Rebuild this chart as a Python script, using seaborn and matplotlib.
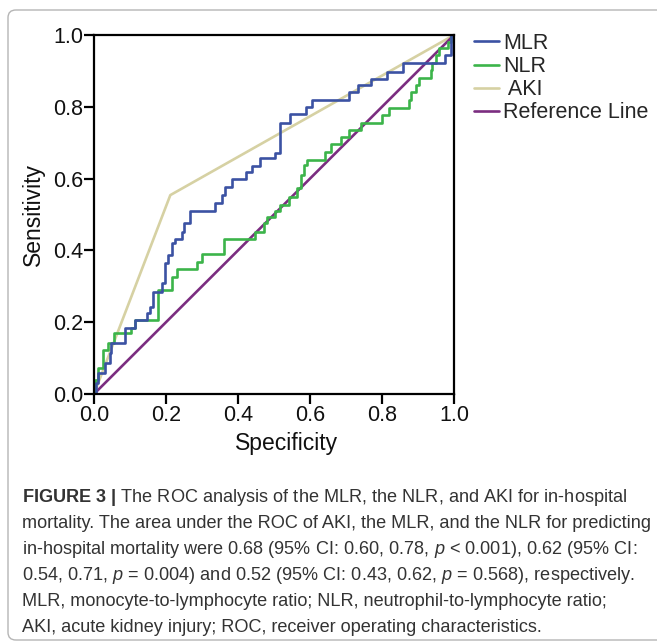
import numpy as np
import pandas as pd
import matplotlib
matplotlib.use("Agg")
import matplotlib.pyplot as plt
from matplotlib.lines import Line2D
from matplotlib.patches import FancyBboxPatch
import seaborn as sns

# ---- data ----
mlr_fpr = [0.0, 0.005, 0.012, 0.030, 0.045, 0.047, 0.085, 0.114, 0.147, 0.156, 0.165,
           0.189, 0.198, 0.205, 0.216, 0.226, 0.244, 0.249, 0.267, 0.337, 0.356, 0.363,
           0.383, 0.421, 0.439, 0.462, 0.504, 0.516, 0.544, 0.588, 0.606, 0.708, 0.732,
           0.769, 0.815, 0.857, 0.975, 0.992, 1.0]
mlr_tpr = [0.0, 0.030, 0.058, 0.085, 0.113, 0.141, 0.183, 0.206, 0.225, 0.243, 0.285,
           0.308, 0.364, 0.387, 0.420, 0.431, 0.452, 0.475, 0.510, 0.531, 0.554, 0.577,
           0.600, 0.619, 0.635, 0.656, 0.670, 0.754, 0.780, 0.800, 0.819, 0.842, 0.861,
           0.877, 0.898, 0.921, 0.944, 1.0, 1.0]

nlr_fpr = [0.0, 0.002, 0.011, 0.025, 0.039, 0.056, 0.104, 0.113, 0.179, 0.216, 0.230,
           0.286, 0.300, 0.360, 0.448, 0.471, 0.480, 0.504, 0.518, 0.541, 0.565, 0.575,
           0.583, 0.592, 0.643, 0.657, 0.685, 0.708, 0.741, 0.801, 0.820, 0.876, 0.880,
           0.894, 0.903, 0.936, 0.940, 0.950, 0.959, 0.982, 0.992, 1.0]
nlr_tpr = [0.0, 0.039, 0.072, 0.123, 0.141, 0.169, 0.183, 0.206, 0.290, 0.327, 0.347,
           0.369, 0.390, 0.431, 0.452, 0.475, 0.494, 0.510, 0.526, 0.550, 0.573, 0.610,
           0.638, 0.652, 0.675, 0.696, 0.715, 0.735, 0.754, 0.777, 0.796, 0.819, 0.842,
           0.861, 0.879, 0.902, 0.921, 0.944, 0.963, 0.981, 1.0, 1.0]

aki_fpr = [0.0, 0.212, 1.0]
aki_tpr = [0.0, 0.554, 1.0]

ref_fpr = [0.0, 1.0]
ref_tpr = [0.0, 1.0]

series_labels = ["MLR", "NLR", " AKI", "Reference Line"]
ticks = [0.0, 0.2, 0.4, 0.6, 0.8, 1.0]
tick_labels = ["0.0", "0.2", "0.4", "0.6", "0.8", "1.0"]

caption_lines = [
    r"$\mathbf{FIGURE\ 3\ |}$ The ROC analysis of the MLR, the NLR, and AKI for in-hospital",
    "mortality. The area under the ROC of AKI, the MLR, and the NLR for predicting",
    r"in-hospital mortality were 0.68 (95% CI: 0.60, 0.78, $p$ < 0.001), 0.62 (95% CI:",
    r"0.54, 0.71, $p$ = $\mathit{0.00}$4) and 0.52 (95% CI: 0.43, 0.62, $p$ = 0.568), respectively.",
    "MLR, monocyte-to-lymphocyte ratio; NLR, neutrophil-to-lymphocyte ratio;",
    "AKI, acute kidney injury; ROC, receiver operating characteristics.",
]

# ---- style ----
sns.set_style("white")
plt.rcParams["font.family"] = ["Liberation Sans", "DejaVu Sans"]
plt.rcParams["mathtext.fontset"] = "custom"
plt.rcParams["mathtext.rm"] = "Liberation Sans"
plt.rcParams["mathtext.it"] = "Liberation Sans:italic"
plt.rcParams["mathtext.bf"] = "Liberation Sans:bold"

colors = {"MLR": "#3b52a3", "NLR": "#3cb44a", "AKI": "#d6d1a3", "REF": "#7b2d80"}

W, H = 657, 643
fig = plt.figure(figsize=(W / 100, H / 100), dpi=100)

# outer frame
frame = FancyBboxPatch((8 / W, 3 / H), 660 / W, 630 / H,
                       boxstyle="round,pad=0,rounding_size=0.012",
                       transform=fig.transFigure, fill=False,
                       edgecolor="#b5b5b5", linewidth=1.0, clip_on=False)
fig.patches.append(frame)

ax = fig.add_axes([94 / W, 1 - 394 / H, 360 / W, 359 / H])

lw = 1.9
sns.lineplot(x=aki_fpr, y=aki_tpr, ax=ax, color=colors["AKI"], linewidth=lw,
             estimator=None, sort=False)
sns.lineplot(x=ref_fpr, y=ref_tpr, ax=ax, color=colors["REF"], linewidth=lw,
             estimator=None, sort=False)
sns.lineplot(x=nlr_fpr, y=nlr_tpr, ax=ax, color=colors["NLR"], linewidth=lw,
             estimator=None, sort=False, drawstyle="steps-post")
sns.lineplot(x=mlr_fpr, y=mlr_tpr, ax=ax, color=colors["MLR"], linewidth=lw,
             estimator=None, sort=False, drawstyle="steps-post")

ax.set_xlim(0, 1)
ax.set_ylim(0, 1)
ax.set_xticks(ticks)
ax.set_xticklabels(tick_labels)
ax.set_yticks(ticks)
ax.set_yticklabels(tick_labels)
for s in ax.spines.values():
    s.set_color("black")
    s.set_linewidth(1.6)
ax.tick_params(axis="both", direction="out", length=7, width=1.6, color="black",
               labelsize=15.5, labelcolor="#111111", pad=1, bottom=True, left=True)
ax.set_xlabel("Specificity", fontsize=16.5, color="#111111")
ax.set_ylabel("Sensitivity", fontsize=16.5, color="#111111")
ax.xaxis.set_label_coords(0.535, -0.105)
ax.yaxis.set_label_coords(-0.135, 0.5)

handles = [Line2D([], [], color=colors["MLR"], lw=lw),
           Line2D([], [], color=colors["NLR"], lw=lw),
           Line2D([], [], color=colors["AKI"], lw=lw),
           Line2D([], [], color=colors["REF"], lw=lw)]
fig.legend(handles, series_labels, loc="upper left",
           bbox_to_anchor=(474 / W, 1 - 33 / H), frameon=False,
           fontsize=15.5, handlelength=1.15, handletextpad=0.2,
           labelspacing=0.1, borderaxespad=0, borderpad=0)

y0 = 497
for i, line in enumerate(caption_lines):
    fig.text(22 / W, 1 - (y0 + i * 26.2) / H, line, fontsize=13.1,
             color="#333333", ha="left", va="center")

fig.savefig("out.png", dpi=100)
